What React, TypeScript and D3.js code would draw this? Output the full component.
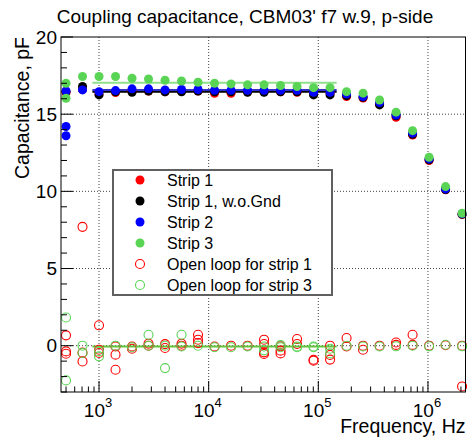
import React, { useEffect, useRef } from "react"
import * as d3 from "d3"

// measurement frequencies, Hz
const freqs = [
	500, 707, 1000, 1414, 2000, 2828, 4000, 5657, 8000, 11314, 16000, 22627, 32000,
	45255, 64000, 90510, 128000, 181019, 256000, 362039, 512000, 724077, 1024000,
	1448155, 2048000,
]

// coupling capacitance, pF
const strip1 = [
	16.4, 16.6, 16.3, 16.4, 16.5, 16.5, 16.45, 16.5, 16.5, 16.35, 16.35, 16.45, 16.45,
	16.45, 16.42, 16.35, 16.35, 16.14, 16.05, 15.65, 14.8, 13.65, 12.0, 10.1, 8.5,
]
const strip1NoGnd = [
	16.45, 16.8, 16.25, 16.45, 16.42, 16.5, 16.45, 16.45, 16.5, 16.45, 16.45, 16.42,
	16.42, 16.45, 16.45, 16.25, 16.25, 16.2, 16.1, 15.6, 14.9, 13.7, 12.05, 10.12, 8.52,
]
const strip2 = [
	16.5, 16.57, 16.46, 16.53, 16.64, 16.64, 16.57, 16.6, 16.6, 16.55, 16.55, 16.55,
	16.55, 16.55, 16.55, 16.42, 16.42, 16.3, 16.14, 15.75, 14.95, 13.77, 12.1, 10.16, 8.55,
]
const strip3 = [
	17.0, 17.44, 17.44, 17.44, 17.33, 17.28, 17.2, 17.15, 17.07, 17.0, 16.96, 16.9, 16.9,
	16.85, 16.79, 16.72, 16.72, 16.46, 16.36, 15.92, 15.13, 13.93, 12.21, 10.31, 8.58,
]
// repeated readings at the lowest frequency
const strip2Extra: [number, number][] = [
	[500, 14.2],
	[500, 13.6],
]
const strip3Extra: [number, number][] = [[500, 16.03]]

// open loop readings (several passes, null = no reading)
const openLoop1A = [
	0.67, 7.7, 1.32, -0.05, -0.05, 0.13, 0.1, 0.13, 0.71, -0.05, 0.0, 0.0, 0.39, -0.04,
	0.43, -0.91, 0.0, 0.5, 0.0, 0.0, 0.21, 0.71, 0.0, 0.03, 0.0,
]
const openLoop1B = [
	-0.37, -0.45, -0.26, -0.58, -0.2, 0.0, -0.15, 0.0, 0.39, null, null, null, 0.11, -0.32,
	0.11, -0.97, -0.6, -0.05, -0.26, null, 0.05, 0.05, null, null, -2.64,
]
const openLoop1C = [
	-0.52, -1.02, -0.47, -1.56, null, null, null, null, 0.17, null, null, null, -0.43, -0.5,
	null, null, -0.9, null, null, null, null, null, null, null, null,
]
const openLoop1D = [
	null, null, null, null, null, null, null, null, null, null, null, null, -0.54, null,
	null, null, null, null, null, null, null, null, null, null, null,
]
const openLoop3A = [
	1.83, 0.0, -0.37, 0.0, -0.1, 0.71, 0.0, 0.71, 0.0, -0.1, -0.1, -0.05, -0.05, 0.04,
	-0.05, -0.1, -0.2, 0.0, -0.05, -0.05, -0.04, 0.0, -0.04, 0.06, -0.04,
]
const openLoop3B = [
	-2.25, -0.47, -0.69, null, null, 0.0, -1.45, -0.05, null, null, null, null, -0.3, -0.1,
	-0.1, -0.05, -0.5, null, null, null, null, null, null, null, null,
]

// flat fits over the plateau
const fitRange = [870, 147000]
const fitLevels = [
	{ value: 16.45, color: "#000000" },
	{ value: 16.57, color: "#3333cc" },
	{ value: 17.04, color: "#8ee08a" },
	{ value: -0.05, color: "#66c43c" },
]

const legendLabels = [
	"Strip 1",
	"Strip 1, w.o.Gnd",
	"Strip 2",
	"Strip 3",
	"Open loop for strip 1",
	"Open loop for strip 3",
]

const xDecades = [1e3, 1e4, 1e5, 1e6]
const yMajor = [0, 5, 10, 15, 20]

const RED = "#ff0000"
const BLACK = "#000000"
const BLUE = "#0000ff"
const GREEN = "#59d454"

const WIDTH = 472
const HEIGHT = 437
const FONT = "'Liberation Sans', Arial, Helvetica, sans-serif"

const App = () => {
	const ref = useRef<SVGSVGElement>(null)

	useEffect(() => {
		const svg = d3.select(ref.current)
		svg.selectAll("*").remove()

		const left = 61
		const right = 465.5
		const top = 37
		const bottom = 392

		const x = d3.scaleLog().domain([450, 2.2e6]).range([left, right])
		const y = d3.scaleLinear().domain([-3, 20]).range([bottom, top])

		svg.append("rect").attr("width", WIDTH).attr("height", HEIGHT).attr("fill", "#fff")

		// Title
		svg
			.append("text")
			.attr("x", 245)
			.attr("y", 23)
			.attr("text-anchor", "middle")
			.style("font-family", FONT)
			.style("font-size", "19px")
			.text("Coupling capacitance, CBM03' f7 w.9, p-side")

		// Grid
		const grid = svg
			.append("g")
			.attr("stroke", "#444")
			.attr("stroke-width", 1)
			.attr("stroke-dasharray", "1,2")
		xDecades.forEach(d => {
			grid
				.append("line")
				.attr("x1", x(d))
				.attr("x2", x(d))
				.attr("y1", top)
				.attr("y2", bottom)
		})
		yMajor
			.filter(v => v < 20)
			.forEach(v => {
				grid
					.append("line")
					.attr("x1", left)
					.attr("x2", right)
					.attr("y1", y(v))
					.attr("y2", y(v))
			})

		// Fit lines
		fitLevels.forEach(f => {
			svg
				.append("line")
				.attr("x1", x(fitRange[0]))
				.attr("x2", x(fitRange[1]))
				.attr("y1", y(f.value))
				.attr("y2", y(f.value))
				.attr("stroke", f.color)
				.attr("stroke-width", 2)
		})

		const r = 4.5
		const pts = (vals: (number | null)[]) =>
			vals
				.map((v, i) => [freqs[i], v] as [number, number | null])
				.filter(p => p[1] !== null) as [number, number][]

		const filled = (data: [number, number][], color: string) => {
			svg
				.append("g")
				.selectAll("circle")
				.data(data)
				.join("circle")
				.attr("cx", d => x(d[0]))
				.attr("cy", d => y(d[1]))
				.attr("r", r)
				.attr("fill", color)
		}
		const open = (data: [number, number][], color: string) => {
			svg
				.append("g")
				.selectAll("circle")
				.data(data)
				.join("circle")
				.attr("cx", d => x(d[0]))
				.attr("cy", d => y(d[1]))
				.attr("r", r)
				.attr("fill", "none")
				.attr("stroke", color)
				.attr("stroke-width", 1.1)
		}

		filled(pts(strip1), RED)
		filled(pts(strip1NoGnd), BLACK)
		filled(pts(strip2).concat(strip2Extra), BLUE)
		filled(pts(strip3).concat(strip3Extra), GREEN)

		open(
			pts(openLoop1A).concat(pts(openLoop1B), pts(openLoop1C), pts(openLoop1D)),
			RED,
		)
		open(pts(openLoop3A).concat(pts(openLoop3B)), GREEN)

		// Frame
		svg
			.append("rect")
			.attr("x", left)
			.attr("y", top)
			.attr("width", right - left)
			.attr("height", bottom - top)
			.attr("fill", "none")
			.attr("stroke", "#000")
			.attr("stroke-width", 1)

		// X ticks
		const axes = svg.append("g").attr("stroke", "#000").attr("stroke-width", 1)
		const minorX: number[] = []
		;[100, 1e3, 1e4, 1e5, 1e6].forEach(dec => {
			for (let k = 2; k <= 9; k++) {
				const f = dec * k
				if (f >= x.domain()[0] && f <= x.domain()[1]) minorX.push(f)
			}
		})
		minorX.forEach(f => {
			axes
				.append("line")
				.attr("x1", x(f))
				.attr("x2", x(f))
				.attr("y1", bottom)
				.attr("y2", bottom - 5.5)
		})
		xDecades.forEach(f => {
			axes
				.append("line")
				.attr("x1", x(f))
				.attr("x2", x(f))
				.attr("y1", bottom)
				.attr("y2", bottom - 11)
		})
		xDecades.forEach(f => {
			const t = svg
				.append("text")
				.attr("x", x(f) - 1)
				.attr("y", 417)
				.attr("text-anchor", "middle")
				.style("font-family", FONT)
				.style("font-size", "19px")
			t.append("tspan").text("10")
			t.append("tspan")
				.attr("dy", -10)
				.style("font-size", "13px")
				.text(String(Math.round(Math.log10(f))))
		})

		// Y ticks
		d3.range(-3, 21).forEach(v => {
			const major = v % 5 === 0
			axes
				.append("line")
				.attr("x1", left)
				.attr("x2", left + (major ? 12 : 6))
				.attr("y1", y(v))
				.attr("y2", y(v))
		})
		yMajor.forEach(v => {
			svg
				.append("text")
				.attr("x", 57)
				.attr("y", y(v) + 6.8)
				.attr("text-anchor", "end")
				.style("font-family", FONT)
				.style("font-size", "19px")
				.text(v)
		})

		// Axis titles
		svg
			.append("text")
			.attr("x", right)
			.attr("y", 433)
			.attr("text-anchor", "end")
			.style("font-family", FONT)
			.style("font-size", "19.5px")
			.text("Frequency, Hz")
		svg
			.append("text")
			.attr("transform", `translate(29,${top}) rotate(-90)`)
			.attr("text-anchor", "end")
			.style("font-family", FONT)
			.style("font-size", "19.5px")
			.text("Capacitance, pF")

		// Legend
		const lg = svg.append("g")
		lg.append("rect")
			.attr("x", 113)
			.attr("y", 170)
			.attr("width", 219)
			.attr("height", 125)
			.attr("fill", "#fff")
			.attr("stroke", "#606060")
			.attr("stroke-width", 2)
		const legendStyles = [
			{ fill: RED, stroke: "none" },
			{ fill: BLACK, stroke: "none" },
			{ fill: BLUE, stroke: "none" },
			{ fill: GREEN, stroke: "none" },
			{ fill: "none", stroke: RED },
			{ fill: "none", stroke: GREEN },
		]
		legendLabels.forEach((label, i) => {
			const cy = 180 + i * 21
			lg.append("circle")
				.attr("cx", 140)
				.attr("cy", cy)
				.attr("r", r)
				.attr("fill", legendStyles[i].fill)
				.attr("stroke", legendStyles[i].stroke)
				.attr("stroke-width", 1.1)
			lg.append("text")
				.attr("x", 167)
				.attr("y", cy + 5.7)
				.style("font-family", FONT)
				.style("font-size", "16px")
				.text(label)
		})
	}, [])

	return (
		<svg
			ref={ref}
			width={WIDTH}
			height={HEIGHT}
			style={{ position: "absolute", left: 0, top: 0 }}
		/>
	)
}

export default App
